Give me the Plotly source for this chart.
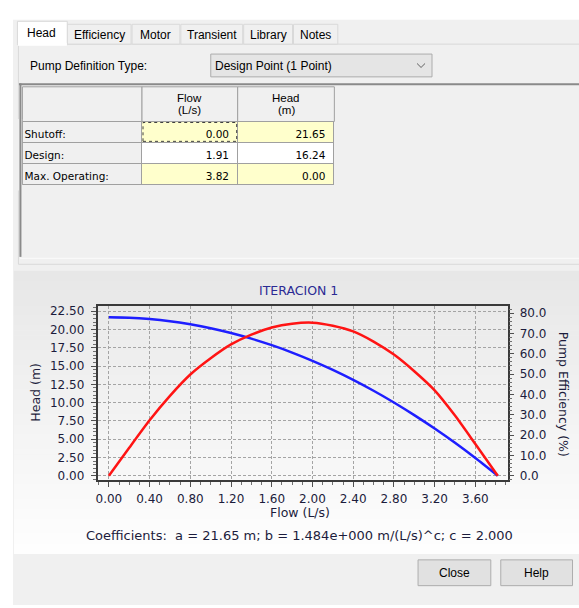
import plotly.graph_objects as go

W, H = 579, 608

# ---------------- data ----------------
flow = [0.0, 0.2, 0.4, 0.6, 0.8, 1.0, 1.2, 1.4, 1.6, 1.8, 2.0, 2.2, 2.4, 2.6, 2.8, 3.0, 3.2, 3.4, 3.6, 3.82]
head = [21.65, 21.59, 21.41, 21.12, 20.70, 20.17, 19.51, 18.74, 17.85, 16.84, 15.71, 14.47,
        13.10, 11.62, 10.02, 8.29, 6.45, 4.50, 2.42, 0.00]
efficiency = [0.0, 13.8, 27.3, 39.3, 49.8, 57.8, 64.6, 69.4, 72.9, 74.8, 75.3, 73.8,
              71.0, 66.0, 59.6, 51.4, 42.0, 29.6, 15.6, 0.0]

table_labels = ["Shutoff:", "Design:", "Max. Operating:"]
table_flow = [0.00, 1.91, 3.82]
table_head = [21.65, 16.24, 0.00]
table_header_top = ["Flow", "Head"]
table_header_units = ["(L/s)", "(m)"]

coef_a, coef_b, coef_c = 21.65, 1.484, 2.000

tabs = ["Head", "Efficiency", "Motor", "Transient", "Library", "Notes"]
chart_title = "ITERACION 1"
x_title = "Flow (L/s)"
y_title = "Head (m)"
y2_title = "Pump Efficiency (%)"
pump_def_label = "Pump Definition Type:"
pump_def_value = "Design Point (1 Point)"
buttons = ["Close", "Help"]

# ---------------- helpers ----------------
UI = "Liberation Sans"
TAHOMA = "DejaVu Sans"
shapes = []
annotations = []


def fx(x):
    return x / W


def fy(y):
    return 1 - y / H


def rect(x0, y0, x1, y1, fill=None, line=None, lw=1, dash=None, layer="below"):
    shapes.append(dict(type="rect", xref="paper", yref="paper",
                       x0=fx(x0), x1=fx(x1), y0=fy(y1), y1=fy(y0),
                       fillcolor=fill if fill else "rgba(0,0,0,0)",
                       line=dict(color=line if line else "rgba(0,0,0,0)",
                                 width=lw if line else 0, dash=dash),
                       layer=layer))


def hline(x0, x1, y, color, lw=1, layer="below"):
    shapes.append(dict(type="line", xref="paper", yref="paper",
                       x0=fx(x0), x1=fx(x1), y0=fy(y), y1=fy(y),
                       line=dict(color=color, width=lw), layer=layer))


def vline(x, y0, y1, color, lw=1, layer="below"):
    shapes.append(dict(type="line", xref="paper", yref="paper",
                       x0=fx(x), x1=fx(x), y0=fy(y0), y1=fy(y1),
                       line=dict(color=color, width=lw), layer=layer))


def path(pts, fill=None, line="#000", lw=1):
    d = "M" + " L".join(f"{fx(x):.5f},{fy(y):.5f}" for x, y in pts)
    shapes.append(dict(type="path", xref="paper", yref="paper", path=d,
                       fillcolor=fill if fill else "rgba(0,0,0,0)",
                       line=dict(color=line, width=lw), layer="below"))


def label(x, y, s, size=12, color="#000000", family=UI, xa="left", ya="middle", angle=0):
    annotations.append(dict(x=fx(x), y=fy(y), xref="paper", yref="paper", text=s,
                            showarrow=False, xanchor=xa, yanchor=ya, textangle=angle,
                            borderpad=0, font=dict(family=family, size=size, color=color)))


# ---------------- dialog chrome ----------------
rect(11, 18, 579, 608, fill="#f0f0f0")

# tab content panel
rect(16.5, 42.5, 585, 264.5, fill="#f0f0f0", line="#d9d9d9")

# tabs
tab_edges = [15, 65, 130, 179, 242, 292, 337.5]
for i in range(1, len(tabs)):
    x0, x1 = tab_edges[i], tab_edges[i + 1]
    rect(x0 + 0.5, 22.5, x1 - 0.5, 42.5, fill="#f0f0f0", line="#d9d9d9")
path([(15.5, 43.5), (15.5, 19.5), (65.5, 19.5), (65.5, 43.5)], fill="#ffffff", line="#d9d9d9")
rect(16, 41, 65, 44, fill="#ffffff")
for i, name in enumerate(tabs):
    x0, x1 = tab_edges[i], tab_edges[i + 1]
    label((x0 + x1) / 2, 31.5 if i == 0 else 33, name, size=12, xa="center")

# pump definition row
label(27, 64.5, pump_def_label, size=12)
rect(209.5, 52.5, 431.5, 75.5, fill="#e5e5e5", line="#acacac")
label(213, 64.5, pump_def_value, size=12)
path([(416.5, 62), (420.5, 66), (424.5, 62)], line="#606060", lw=1)

# grid container
hline(17, 585, 83, "#8a8a8a", 2)
hline(18, 585, 258.5, "#fbfbfb", 1)

# table header row (column captions)
col_edges = [20.5, 140.5, 236.5, 333.5]
for i in range(3):
    rect(col_edges[i], 85.5, col_edges[i + 1], 120.5, fill="#f0f0f0", line="#a0a0a0")
for i in range(2):
    cx = (col_edges[i + 1] + col_edges[i + 2]) / 2
    label(cx, 97, table_header_top[i], size=11.5, xa="center")
    label(cx, 109, table_header_units[i], size=11.5, xa="center")

# chart panel with vertical gradient
P_X0, P_X1, P_Y0, P_Y1 = 12, 579, 271, 556
n_strips = 57
c_top, c_bot = 231, 254
step = (P_Y1 - P_Y0) / n_strips
for k in range(n_strips):
    c = round(c_top + (c_bot - c_top) * k / (n_strips - 1))
    rect(P_X0, P_Y0 + k * step, P_X1, P_Y0 + (k + 1) * step + 0.6, fill=f"rgb({c},{c},{c})")

# buttons
btn_boxes = [(417, 562, 491, 589), (500, 562, 573, 589)]
for (x0, y0, x1, y1), name in zip(btn_boxes, buttons):
    rect(x0 + 0.5, y0 + 0.5, x1 - 0.5, y1 - 0.5, fill="#e1e1e1", line="#adadad")
    label((x0 + x1) / 2, (y0 + y1) / 2 + 0.5, name, size=12, xa="center")

# the label column of the grid is drawn slightly wider than shown so its text sits
# close to the left edge; hide the surplus and redraw the real left borders on top
rect(11.5, 118, 20.2, 190, fill="#f0f0f0", layer="above")
vline(20.5, 120.5, 183.5, "#a0a0a0", 1, layer="above")
vline(18.5, 82, 257, "#8a8a8a", 2, layer="above")

# focus rectangle on the first editable cell
rect(141.5, 121.5, 235.5, 140.5, line="#404040", dash="dot", layer="above")

# ---------------- table ----------------
yellow = "#ffffcc"
fill_cols = [["#f0f0f0"] * 3, [yellow, "#ffffff", yellow], [yellow, "#ffffff", yellow]]
fig = go.Figure()
fig.add_trace(go.Table(
    domain=dict(x=[fx(14.5), fx(333.5)], y=[fy(200), fy(104.5)]),
    columnwidth=[126, 96, 97],
    header=dict(values=[], fill=dict(color="rgba(0,0,0,0)"),
                line=dict(width=0, color="rgba(0,0,0,0)")),
    cells=dict(values=[table_labels,
                       [f"{v:.2f}" for v in table_flow],
                       [f"{v:.2f}" for v in table_head]],
               height=21, fill=dict(color=fill_cols),
               line=dict(color="#a0a0a0", width=1), align=["left", "right", "right"],
               font=dict(family=TAHOMA, size=10.5, color="#000000")),
))

# ---------------- chart ----------------
TXT = "#1c1c3c"
fig.add_trace(go.Scatter(x=flow, y=head, mode="lines", yaxis="y", xaxis="x",
                         line=dict(color="#1e1eff", width=2.5, shape="spline", smoothing=0.6),
                         hoverinfo="skip"))
fig.add_trace(go.Scatter(x=flow, y=efficiency, mode="lines", yaxis="y2", xaxis="x",
                         line=dict(color="#ff1414", width=2.5, shape="spline", smoothing=0.6),
                         hoverinfo="skip"))

tickfont = dict(family=TAHOMA, size=12, color=TXT)
grid = dict(showgrid=True, gridcolor="#a4a4a4", gridwidth=1, griddash="3px,2px")

label(298, 291, chart_title, size=12.5, color="#2b2b94", family=TAHOMA, xa="center")
label(299, 514.5, x_title, size=12.5, color=TXT, family=TAHOMA, xa="center")
label(34, 393, y_title, size=12.5, color=TXT, family=TAHOMA, xa="center", angle=-90)
label(563, 395, y2_title, size=12.5, color=TXT, family=TAHOMA, xa="center", angle=90)
coef_text = (f"Coefficients:  a = {coef_a:.2f} m; b = {coef_b:.3f}e+000 m/(L/s)^c; "
             f"c = {coef_c:.3f}")
label(299, 537.5, coef_text, size=13, color=TXT, family=TAHOMA, xa="center")

fig.update_layout(
    width=W, height=H, margin=dict(l=0, r=0, t=0, b=0),
    paper_bgcolor="#ffffff", plot_bgcolor="rgba(0,0,0,0)",
    showlegend=False,
    shapes=shapes,
    annotations=annotations,
    xaxis=dict(domain=[fx(96), fx(508)], range=[-0.11, 3.923], anchor="y",
               tick0=0, dtick=0.4, tickformat=".2f", tickfont=tickfont,
               ticks="outside", ticklen=5, tickcolor="#505050", ticklabelstandoff=2,
               minor=dict(tick0=0, dtick=0.1, ticks="outside", ticklen=3, tickcolor="#707070"),
               showline=True, linecolor="#3a3a3a", linewidth=2, mirror=True,
               zeroline=False, fixedrange=True, **grid),
    yaxis=dict(domain=[fy(482), fy(307)], range=[-0.583, 23.137], anchor="x",
               tick0=0, dtick=2.5, tickformat=".2f", tickfont=tickfont,
               ticks="outside", ticklen=5, tickcolor="#505050", ticklabelstandoff=4,
               minor=dict(tick0=0, dtick=0.5, ticks="outside", ticklen=3, tickcolor="#707070"),
               showline=True, linecolor="#3a3a3a", linewidth=2, mirror=True,
               zeroline=False, fixedrange=True, **grid),
    yaxis2=dict(overlaying="y", side="right", anchor="x", range=[-2.1, 83.27],
                tick0=0, dtick=10, tickformat=".1f", tickfont=tickfont,
                ticks="outside", ticklen=5, tickcolor="#505050", ticklabelstandoff=3,
                minor=dict(tick0=0, dtick=2, ticks="outside", ticklen=3, tickcolor="#707070"),
                showline=False, showgrid=False, zeroline=False, fixedrange=True),
)

fig.write_html("out.html", config={"displayModeBar": False},
               post_script="document.body.style.margin='0px';document.body.style.overflow='hidden';")
